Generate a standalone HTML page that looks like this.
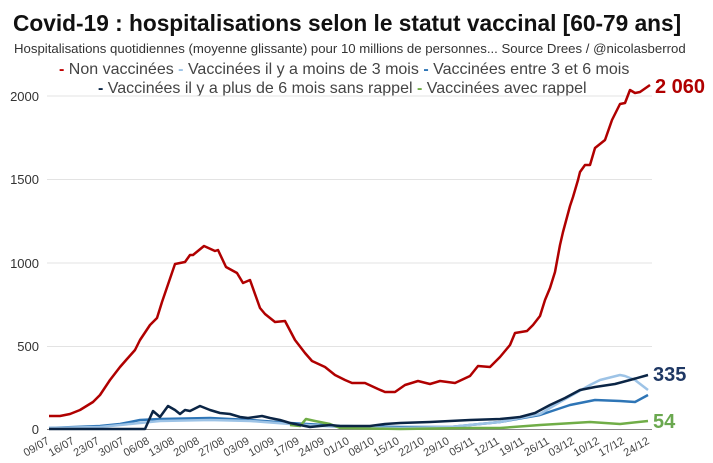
<!DOCTYPE html>
<html><head><meta charset="utf-8"><style>
body{margin:0;background:#fff;width:713px;height:463px;overflow:hidden}
svg{display:block;font-family:"Liberation Sans",Arial,sans-serif}
</style></head><body>
<svg width="713" height="463" viewBox="0 0 713 463">
<text x="13" y="31" font-size="22.7" font-weight="bold" fill="#111">Covid-19 : hospitalisations selon le statut vaccinal [60-79 ans]</text>
<text x="14" y="53" font-size="13.2" fill="#333">Hospitalisations quotidiennes (moyenne glissante) pour 10 millions de personnes... Source Drees / @nicolasberrod</text>
<g font-size="16" fill="#444">
<text x="59" y="74"><tspan fill="#c00000" font-weight="bold">-</tspan> Non vaccinées  <tspan fill="#9dc3e6" font-weight="bold">-</tspan> Vaccinées il y a moins de 3 mois  <tspan fill="#2e75b6" font-weight="bold">-</tspan> Vaccinées entre 3 et 6 mois</text>
<text x="98" y="93"><tspan fill="#0b2545" font-weight="bold">-</tspan> Vaccinées il y a plus de 6 mois sans rappel  <tspan fill="#70ad47" font-weight="bold">-</tspan> Vaccinées avec rappel</text>
</g>
<g stroke="#e3e3e3" stroke-width="1">
<line x1="47" y1="96" x2="652" y2="96"/><line x1="47" y1="179.5" x2="652" y2="179.5"/>
<line x1="47" y1="263" x2="652" y2="263"/><line x1="47" y1="346.5" x2="652" y2="346.5"/>
</g>
<line x1="47" y1="429.5" x2="652" y2="429.5" stroke="#888" stroke-width="1"/>
<g font-size="13" fill="#333" text-anchor="end">
<text x="39" y="101">2000</text><text x="39" y="184">1500</text><text x="39" y="268">1000</text>
<text x="39" y="351">500</text><text x="39" y="434">0</text>
</g>
<g font-size="11" fill="#444" text-anchor="end">
<text transform="translate(50,443) rotate(-30)">09/07</text>
<text transform="translate(75,443) rotate(-30)">16/07</text>
<text transform="translate(100,443) rotate(-30)">23/07</text>
<text transform="translate(125,443) rotate(-30)">30/07</text>
<text transform="translate(150,443) rotate(-30)">06/08</text>
<text transform="translate(175,443) rotate(-30)">13/08</text>
<text transform="translate(200,443) rotate(-30)">20/08</text>
<text transform="translate(225,443) rotate(-30)">27/08</text>
<text transform="translate(250,443) rotate(-30)">03/09</text>
<text transform="translate(275,443) rotate(-30)">10/09</text>
<text transform="translate(300,443) rotate(-30)">17/09</text>
<text transform="translate(325,443) rotate(-30)">24/09</text>
<text transform="translate(350,443) rotate(-30)">01/10</text>
<text transform="translate(375,443) rotate(-30)">08/10</text>
<text transform="translate(400,443) rotate(-30)">15/10</text>
<text transform="translate(425,443) rotate(-30)">22/10</text>
<text transform="translate(450,443) rotate(-30)">29/10</text>
<text transform="translate(475,443) rotate(-30)">05/11</text>
<text transform="translate(500,443) rotate(-30)">12/11</text>
<text transform="translate(525,443) rotate(-30)">19/11</text>
<text transform="translate(550,443) rotate(-30)">26/11</text>
<text transform="translate(575,443) rotate(-30)">03/12</text>
<text transform="translate(600,443) rotate(-30)">10/12</text>
<text transform="translate(625,443) rotate(-30)">17/12</text>
<text transform="translate(650,443) rotate(-30)">24/12</text>
</g>
<g fill="none" stroke-width="2.5" stroke-linejoin="round">
<polyline stroke="#2e75b6" points="49,428 100,426 120,424 140,420 160,419 210,418 250,420 290,423 340,426 400,427 450,427 500,422 540,415 570,405 595,400 620,401 635,402 648,395"/>
<polyline stroke="#9dc3e6" points="49,428 100,427 130,424 160,421 210,420 250,421 290,424 340,427 400,428 450,427 500,422 540,414 560,402 590,385 600,380 620,375 625,376 635,380 648,390"/>
<polyline stroke="#70ad47" points="290,425 300,426 306,419 315,421 330,424 340,428 400,429 470,428 500,428 540,425 590,422 620,424 648,421"/>
<polyline stroke="#0b2545" points="49,429 145,429 153,411 160,417 168,406 175,410 180,414 185,410 190,411 200,406 210,410 220,413 230,414 240,417 248,418 255,417 262,416 270,418 280,420 290,423 300,425 310,427 320,426 330,425 340,426 370,426 385,424 400,423 430,422 470,420 500,419 520,417 535,413 550,405 565,398 580,390 595,387 615,384 630,380 648,375"/>
<polyline stroke="#b00000" points="49,416 60,416 70,414 80,410 93,402 100,395 110,380 120,367 127,359 135,350 140,340 150,325 157,318 162,302 175,264 185,262 190,255 193,255 204,246 215,251 218,250 226,267 237,273 243,283 250,280 260,308 265,314 275,322 285,321 295,340 305,353 312,361 325,367 335,375 345,380 352,383 365,383 378,389 385,392 395,392 405,385 418,381 430,384 440,381 455,383 470,376 478,366 490,367 500,357 510,345 515,333 527,331 533,325 540,316 545,300 550,288 555,272 560,245 563,232 570,206 573,197 578,180 580,172 585,165 590,165 595,148 605,140 612,120 620,104 625,103 630,90 635,93 640,92 650,85"/>
</g>
<text x="655" y="93" font-size="20" font-weight="bold" fill="#b00000">2 060</text>
<text x="653" y="381" font-size="20" font-weight="bold" fill="#1f3864">335</text>
<text x="653" y="428" font-size="20" font-weight="bold" fill="#6aa84f">54</text>
</svg>
</body></html>
